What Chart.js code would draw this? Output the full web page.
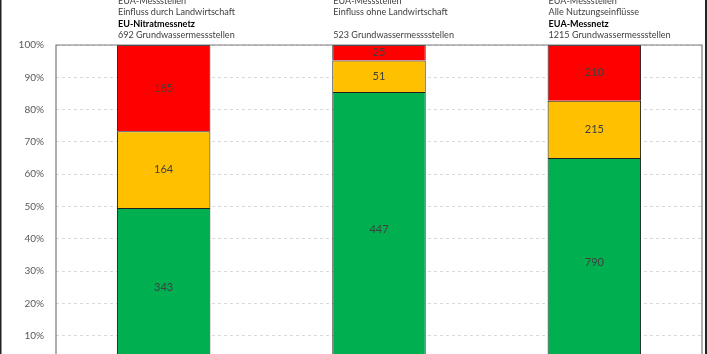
<!DOCTYPE html>
<html><head><meta charset="utf-8">
<script src="https://cdn.jsdelivr.net/npm/chart.js@4/dist/chart.umd.min.js"></script>
<style>html,body{margin:0;padding:0;overflow:hidden;background:#fff;width:707px;height:354px}#wrap{width:707px;height:400px}</style>
</head><body><div id="wrap"><canvas id="c" width="707" height="400"></canvas></div>
<script>
const categories = ["EU-Nitratmessnetz", "Einfluss ohne Landwirtschaft", "EUA-Messnetz"];
const headerLines = [
  ["EUA-Messstellen", "Einfluss durch Landwirtschaft", "EU-Nitratmessnetz", "692 Grundwassermessstellen"],
  ["EUA-Messstellen", "Einfluss ohne Landwirtschaft", "", "523 Grundwassermesssstellen"],
  ["EUA-Messstellen", "Alle Nutzungseinflüsse", "EUA-Messnetz", "1215 Grundwassermessstellen"]
];
const boldLine = 2;
const greenValues = [343, 447, 790];
const yellowValues = [164, 51, 215];
const redValues = [185, 25, 210];
const yTickLabels = ["0%","10%","20%","30%","40%","50%","60%","70%","80%","90%","100%"];

const totals = categories.map((_, i) => greenValues[i] + yellowValues[i] + redValues[i]);
const pct = arr => arr.map((v, i) => v / totals[i] * 100);
const FONT = "Lato, 'Open Sans', sans-serif";

const deco = {
  id: 'deco',
  afterDatasetsDraw(chart) {
    const ctx = chart.ctx, a = chart.chartArea;
    ctx.save();
    // plot area border
    ctx.strokeStyle = '#7a7a7a'; ctx.lineWidth = 1.2;
    ctx.beginPath();
    ctx.moveTo(a.left, chart.height); ctx.lineTo(a.left, a.top); ctx.lineTo(a.right, a.top); ctx.lineTo(a.right, chart.height);
    ctx.stroke();
    // value labels
    ctx.font = '11px ' + FONT; ctx.fillStyle = '#404040';
    ctx.textAlign = 'center'; ctx.textBaseline = 'middle';
    const raw = [greenValues, yellowValues, redValues];
    chart.data.datasets.forEach((ds, di) => {
      chart.getDatasetMeta(di).data.forEach((bar, i) => {
        const y = (bar.y + bar.base) / 2;
        ctx.fillText(String(raw[di][i]), bar.x, y);
      });
    });
    // header texts: calibrate size so the long lines have the reference width (~117px)
    ctx.font = '10px ' + FONT;
    const wA = ctx.measureText(headerLines[0][1]).width;
    const wB = ctx.measureText(headerLines[0][3]).width;
    const fs = 10 * 117 / ((wA + wB) / 2);
    const meta = chart.getDatasetMeta(0);
    ctx.textAlign = 'left'; ctx.textBaseline = 'middle';
    headerLines.forEach((lines, i) => {
      const bar = meta.data[i];
      const x = bar.x - bar.width / 2 + 1;
      lines.forEach((t, li) => {
        if (!t) return;
        ctx.font = (li === boldLine ? 'bold ' : '') + fs.toFixed(2) + 'px ' + FONT;
        ctx.fillStyle = li === boldLine ? '#000' : '#404040';
        ctx.fillText(t, x, 1 + li * 11.5);
      });
    });
    // outer border
    ctx.strokeStyle = '#222'; ctx.lineWidth = 1.5;
    ctx.beginPath(); ctx.moveTo(0.75, 0); ctx.lineTo(0.75, chart.height); ctx.stroke();
    ctx.lineWidth = 2;
    ctx.beginPath(); ctx.moveTo(706, 0); ctx.lineTo(706, chart.height); ctx.stroke();
    ctx.restore();
  }
};

const barCommon = { borderColor: '#1e1e1e', borderWidth: { top: 1, left: 1, right: 1, bottom: 0 }, barPercentage: 0.434, categoryPercentage: 1, borderSkipped: false };
new Chart(document.getElementById('c'), {
  type: 'bar',
  data: {
    labels: categories,
    datasets: [
      Object.assign({ label: 'grün', data: pct(greenValues), backgroundColor: '#00B050' }, barCommon),
      Object.assign({ label: 'gelb', data: pct(yellowValues), backgroundColor: '#FFC000' }, barCommon),
      Object.assign({ label: 'rot', data: pct(redValues), backgroundColor: '#FF0000' }, barCommon)
    ]
  },
  options: {
    responsive: false, animation: false,
    layout: { padding: { top: 45, bottom: 32, left: 0, right: 5 } },
    plugins: { legend: { display: false }, tooltip: { enabled: false } },
    scales: {
      x: { stacked: true, display: false },
      y: {
        stacked: true, min: 0, max: 100,
        afterFit(s) { s.width = 56; },
        border: { display: false, dash: [3, 3] },
        grid: { color: '#d9d9d9', lineWidth: 1, drawTicks: false },
        ticks: { stepSize: 10, padding: 12, color: '#595959', font: { size: 10, family: FONT },
          callback: (v) => yTickLabels[Math.round(v / 10)] }
      }
    }
  },
  plugins: [deco]
});
</script></body></html>
